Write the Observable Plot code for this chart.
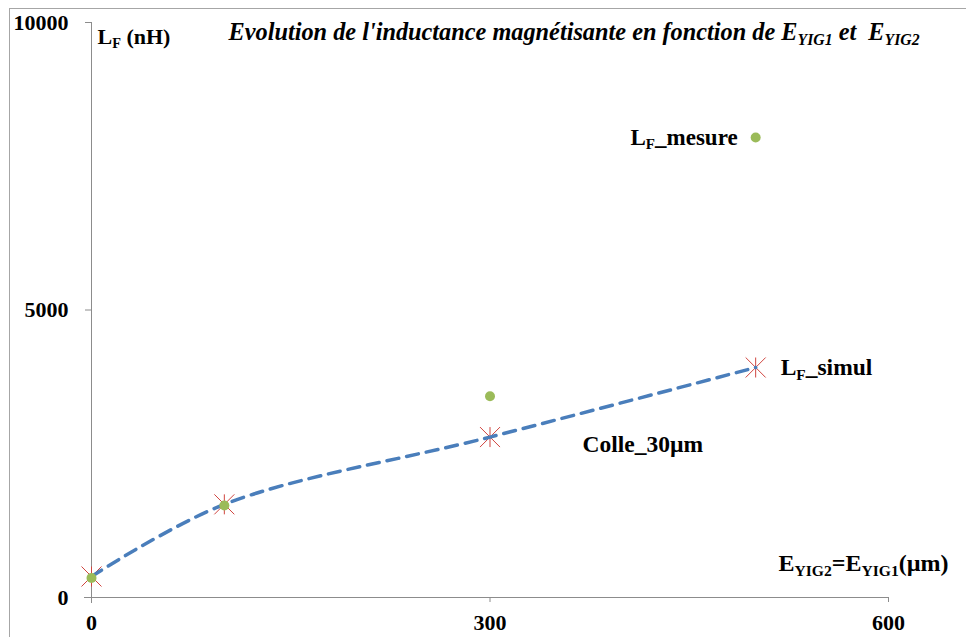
<!DOCTYPE html>
<html><head><meta charset="utf-8">
<script src="https://cdn.jsdelivr.net/npm/d3@7"></script>
<script src="https://cdn.jsdelivr.net/npm/@observablehq/plot@0.6"></script>
<style>
html,body{margin:0;padding:0;background:#fff;}
#wrap{position:relative;width:966px;height:637px;overflow:hidden;}
#border{position:absolute;left:9px;top:8px;width:2000px;height:2000px;border-top:1.5px solid #a6a6a6;border-left:1.5px solid #a6a6a6;pointer-events:none}
#wrap svg{position:absolute;left:0;top:0;}
#wrap svg text{white-space:pre;}
</style></head><body><div id="wrap"><div id="border"></div></div>
<script>
// Data
const thickness = [0, 100, 300, 500];          // E_YIG2 = E_YIG1 (µm)
const simul = [365, 1620, 2790, 4000];         // L_F_simul (nH)
const mesure = [340, 1600, 3500, 8000];        // L_F_mesure (nH)
const xTicks = [0, 300, 600];
const yTicks = [0, 5000, 10000];
const titleText = "Evolution de l'inductance magnétisante en fonction de E{YIG1} et  E{YIG2}";
const yLabel = "L{F} (nH)";
const xLabel = "E{YIG2}=E{YIG1}(µm)";
const mesureLabel = "L{F}_mesure";
const simulLabel = "L{F}_simul";
const noteLabel = "Colle_30µm";

const font = '"Liberation Serif","Times New Roman",serif';
const simulData = thickness.map((x, i) => ({x, y: simul[i]}));
const mesureData = thickness.map((x, i) => ({x, y: mesure[i]}));

const starSymbol = {
  draw(ctx, size) {
    const r = Math.sqrt(size / Math.PI);
    ctx.moveTo(-r, -r); ctx.lineTo(r, r);
    ctx.moveTo(-r, r); ctx.lineTo(r, -r);
    ctx.moveTo(0, -r); ctx.lineTo(0, r);
  }
};

const chart = Plot.plot({
  width: 966, height: 637,
  marginLeft: 91, marginRight: 78, marginTop: 22, marginBottom: 40,
  style: {fontFamily: font, fontWeight: "bold", background: "transparent", overflow: "visible", color: "black"},
  x: {domain: [0, 600]},
  y: {domain: [0, 10000]},
  marks: [
    Plot.ruleX([0], {stroke: "#8c8c8c", strokeWidth: 1, insetBottom: -6}),
    Plot.ruleY([0], {stroke: "#8c8c8c", strokeWidth: 1, insetLeft: -7}),
    Plot.axisY({ticks: yTicks, tickSize: 6, tickPadding: 17, stroke: "#8c8c8c", fill: "black",
      fontSize: 22, label: null, tickFormat: d => String(d)}),
    Plot.axisX({ticks: xTicks, tickSize: 5, tickPadding: 12, stroke: "#8c8c8c", fill: "black",
      fontSize: 22, label: null, tickFormat: d => String(d)}),
    Plot.dot(simulData, {x: "x", y: "y", symbol: starSymbol, r: 10, stroke: "#d0453f", strokeWidth: 1, fill: "none"}),
    Plot.line(simulData, {x: "x", y: "y", curve: "catmull-rom", stroke: "#4a7ebb", strokeWidth: 3.5, strokeDasharray: "12 8"}),
    Plot.dot(mesureData, {x: "x", y: "y", r: 5, fill: "#9bbb59", stroke: "none"}),
    Plot.text([titleText], {text: d => d, frameAnchor: "top-left", textAnchor: "start", lineAnchor: "middle",
      dx: 137, dy: 10, fontSize: 24.3, fontStyle: "italic"}),
    Plot.text([yLabel], {text: d => d, frameAnchor: "top-left", textAnchor: "start", lineAnchor: "middle",
      dx: 6, dy: 14, fontSize: 22}),
    Plot.text([mesureLabel], {text: d => d, x: () => thickness[3], y: () => mesure[3], textAnchor: "end",
      lineAnchor: "middle", dx: -18, fontSize: 23}),
    Plot.text([simulLabel], {text: d => d, x: () => thickness[3], y: () => simul[3], textAnchor: "start",
      lineAnchor: "middle", dx: 25, fontSize: 23.5}),
    Plot.text([noteLabel], {text: d => d, x: () => 415, y: () => 2660, textAnchor: "middle",
      lineAnchor: "middle", fontSize: 23.5}),
    Plot.text([xLabel], {text: d => d, x: () => 600, y: () => 590, textAnchor: "end",
      lineAnchor: "middle", dx: 60, fontSize: 24})
  ]
});

function richify(svg) {
  svg.querySelectorAll("text").forEach(t => {
    const s = t.textContent;
    if (!s.includes("{")) return;
    const g = t.closest("[font-size]");
    const fs = g ? parseFloat(g.getAttribute("font-size")) : 20;
    t.textContent = "";
    const parts = s.split(/(\{[^}]*\})/).filter(p => p);
    let shifted = false;
    for (const p of parts) {
      const ts = document.createElementNS("http://www.w3.org/2000/svg", "tspan");
      if (p.startsWith("{")) {
        ts.textContent = p.slice(1, -1);
        ts.setAttribute("font-size", (fs * 0.65).toFixed(1));
        ts.setAttribute("dy", (fs * 0.2).toFixed(1));
        shifted = true;
      } else {
        ts.textContent = p;
        if (shifted) { ts.setAttribute("dy", (-fs * 0.2).toFixed(1)); shifted = false; }
      }
      t.appendChild(ts);
    }
  });
}
richify(chart);
document.getElementById("wrap").appendChild(chart);
</script>
</body></html>
